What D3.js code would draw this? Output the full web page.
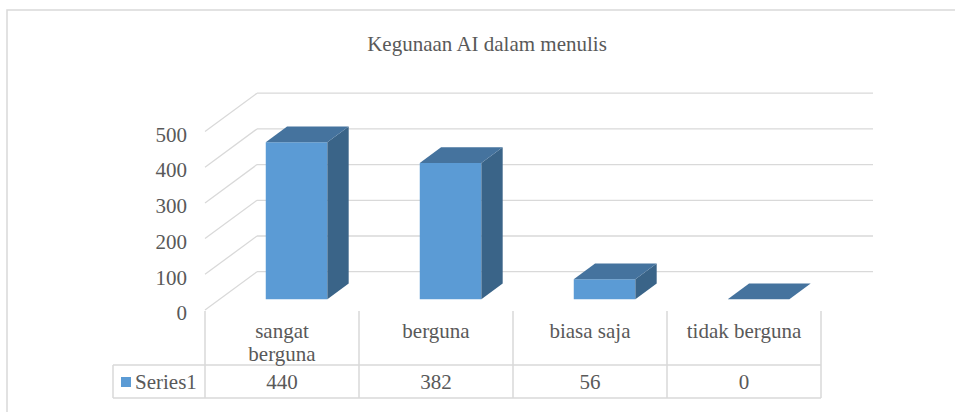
<!DOCTYPE html>
<html>
<head>
<meta charset="utf-8">
<script src="https://cdn.jsdelivr.net/npm/d3@7"></script>
<style>
  body { margin: 0; background: #fff; }
</style>
</head>
<body>
<div id="chart-area"></div>
<script>
const categories = ['sangat berguna', 'berguna', 'biasa saja', 'tidak berguna']
const values = [440, 382, 56, 0]
const yTicks = [0, 100, 200, 300, 400, 500]
const seriesName = 'Series1'

const W = 955, H = 412
const FLOOR = { LEFT: 205, RIGHT: 821, Y: 310 }
const DEPTH = { X: 52, Y: 38.3 }
const BAR_D = [0.28, 0.69]
const GRID = '#d9d9d9'
const INK = '#595959'
const FONT = "'Liberation Serif', 'Times New Roman', Tinos, 'DejaVu Serif', serif"
const FS = '21px'

const svg = d3.select('#chart-area').append('svg')
  .attr('width', W)
  .attr('height', H)
  .attr('font-family', FONT)

// chart frame (runs past the window on the right and bottom)
svg.append('rect')
  .attr('x', 7).attr('y', 10)
  .attr('width', 1000).attr('height', 500)
  .attr('fill', 'none')
  .attr('stroke', GRID)
  .attr('stroke-width', 1.5)

svg.append('text')
  .attr('x', 487).attr('y', 51)
  .attr('text-anchor', 'middle')
  .attr('font-size', FS)
  .attr('fill', INK)
  .text('Kegunaan AI dalam menulis')

const x = d3.scaleBand()
  .domain(categories)
  .range([FLOOR.LEFT, FLOOR.RIGHT])

const y = d3.scaleLinear()
  .domain([0, 500])
  .range([FLOOR.Y, FLOOR.Y - 178.5])

// point in 3d: front x, value, depth fraction
const pt = (px, v, d) => [px + d * DEPTH.X, y(v) - d * DEPTH.Y]
const poly = pts => pts.map(p => p.join(',')).join(' ')

const grid = svg.append('g')
  .attr('stroke', GRID)
  .attr('stroke-width', 1.3)
  .attr('fill', 'none')

// back wall lines
grid.selectAll('.back').data(yTicks).enter().append('line')
  .attr('x1', d => pt(FLOOR.LEFT, d, 1)[0])
  .attr('x2', d => pt(FLOOR.RIGHT, d, 1)[0])
  .attr('y1', d => pt(FLOOR.LEFT, d, 1)[1])
  .attr('y2', d => pt(FLOOR.RIGHT, d, 1)[1])

// side wall lines
grid.selectAll('.side').data(yTicks).enter().append('line')
  .attr('x1', d => pt(FLOOR.LEFT, d, 0)[0])
  .attr('y1', d => pt(FLOOR.LEFT, d, 0)[1])
  .attr('x2', d => pt(FLOOR.LEFT, d, 1)[0])
  .attr('y2', d => pt(FLOOR.LEFT, d, 1)[1])

// y labels
const yAxis = d3.axisLeft(y).tickValues(yTicks).tickSize(0).tickPadding(0)
const ya = svg.append('g')
  .attr('transform', 'translate(187, 3)')
  .call(yAxis)
ya.attr('font-family', FONT).attr('font-size', 21)
ya.select('.domain').remove()
ya.selectAll('text').attr('fill', INK)

// bars
const bw = x.bandwidth() * 0.4
const bars = svg.append('g').selectAll('g').data(categories).enter().append('g')
bars.each(function (c, i) {
  const g = d3.select(this)
  const x0 = x(c) + (x.bandwidth() - bw) / 2
  const x1 = x0 + bw
  const v = values[i]
  const [d1, d2] = BAR_D
  g.append('polygon')
    .attr('points', poly([pt(x0, 0, d1), pt(x1, 0, d1), pt(x1, v, d1), pt(x0, v, d1)]))
    .attr('fill', '#5b9bd5')
  g.append('polygon')
    .attr('points', poly([pt(x1, 0, d1), pt(x1, 0, d2), pt(x1, v, d2), pt(x1, v, d1)]))
    .attr('fill', '#3a6488')
  g.append('polygon')
    .attr('points', poly([pt(x0, v, d1), pt(x1, v, d1), pt(x1, v, d2), pt(x0, v, d2)]))
    .attr('fill', '#45739e')
})

// data table
const TBL = { TOP: 311, MID: 365, BOT: 398, LEG: 113 }
const tbl = svg.append('g')
  .attr('stroke', GRID)
  .attr('stroke-width', 1.5)
tbl.selectAll('.v').data(categories.concat(['end'])).enter().append('line')
  .attr('x1', (d, i) => FLOOR.LEFT + i * x.step())
  .attr('x2', (d, i) => FLOOR.LEFT + i * x.step())
  .attr('y1', TBL.TOP).attr('y2', TBL.BOT)
tbl.append('line').attr('x1', TBL.LEG).attr('x2', FLOOR.RIGHT).attr('y1', TBL.MID).attr('y2', TBL.MID)
tbl.append('line').attr('x1', TBL.LEG).attr('x2', FLOOR.RIGHT).attr('y1', TBL.BOT).attr('y2', TBL.BOT)
tbl.append('line').attr('x1', TBL.LEG).attr('x2', TBL.LEG).attr('y1', TBL.MID).attr('y2', TBL.BOT)

// category labels, wrapped to the cell
const maxW = x.bandwidth() * 0.78
svg.append('g').selectAll('text').data(categories).enter().append('text')
  .attr('x', d => x(d) + x.bandwidth() / 2)
  .attr('y', 338)
  .attr('text-anchor', 'middle')
  .attr('font-size', FS)
  .attr('fill', INK)
  .each(function (d) {
    const t = d3.select(this)
    const words = d.split(' ')
    let line = [], lines = []
    const ts = t.append('tspan')
    words.forEach(w => {
      ts.text(line.concat([w]).join(' '))
      if (line.length && ts.node().getComputedTextLength() > maxW) {
        lines.push(line.join(' '))
        line = [w]
      } else {
        line.push(w)
      }
    })
    lines.push(line.join(' '))
    ts.remove()
    lines.forEach((l, k) => {
      t.append('tspan')
        .attr('x', x(d) + x.bandwidth() / 2)
        .attr('dy', k ? 23 : 0)
        .text(l)
    })
  })

// values row
svg.append('g').selectAll('text').data(values).enter().append('text')
  .attr('x', (d, i) => x(categories[i]) + x.bandwidth() / 2)
  .attr('y', 389)
  .attr('text-anchor', 'middle')
  .attr('font-size', FS)
  .attr('fill', INK)
  .text(d => d)

// legend key
svg.append('rect')
  .attr('x', 121).attr('y', 377)
  .attr('width', 10).attr('height', 10)
  .attr('fill', '#5b9bd5')
svg.append('text')
  .attr('x', 135).attr('y', 389)
  .attr('font-size', FS)
  .attr('fill', INK)
  .text(seriesName)
</script>
</body>
</html>
